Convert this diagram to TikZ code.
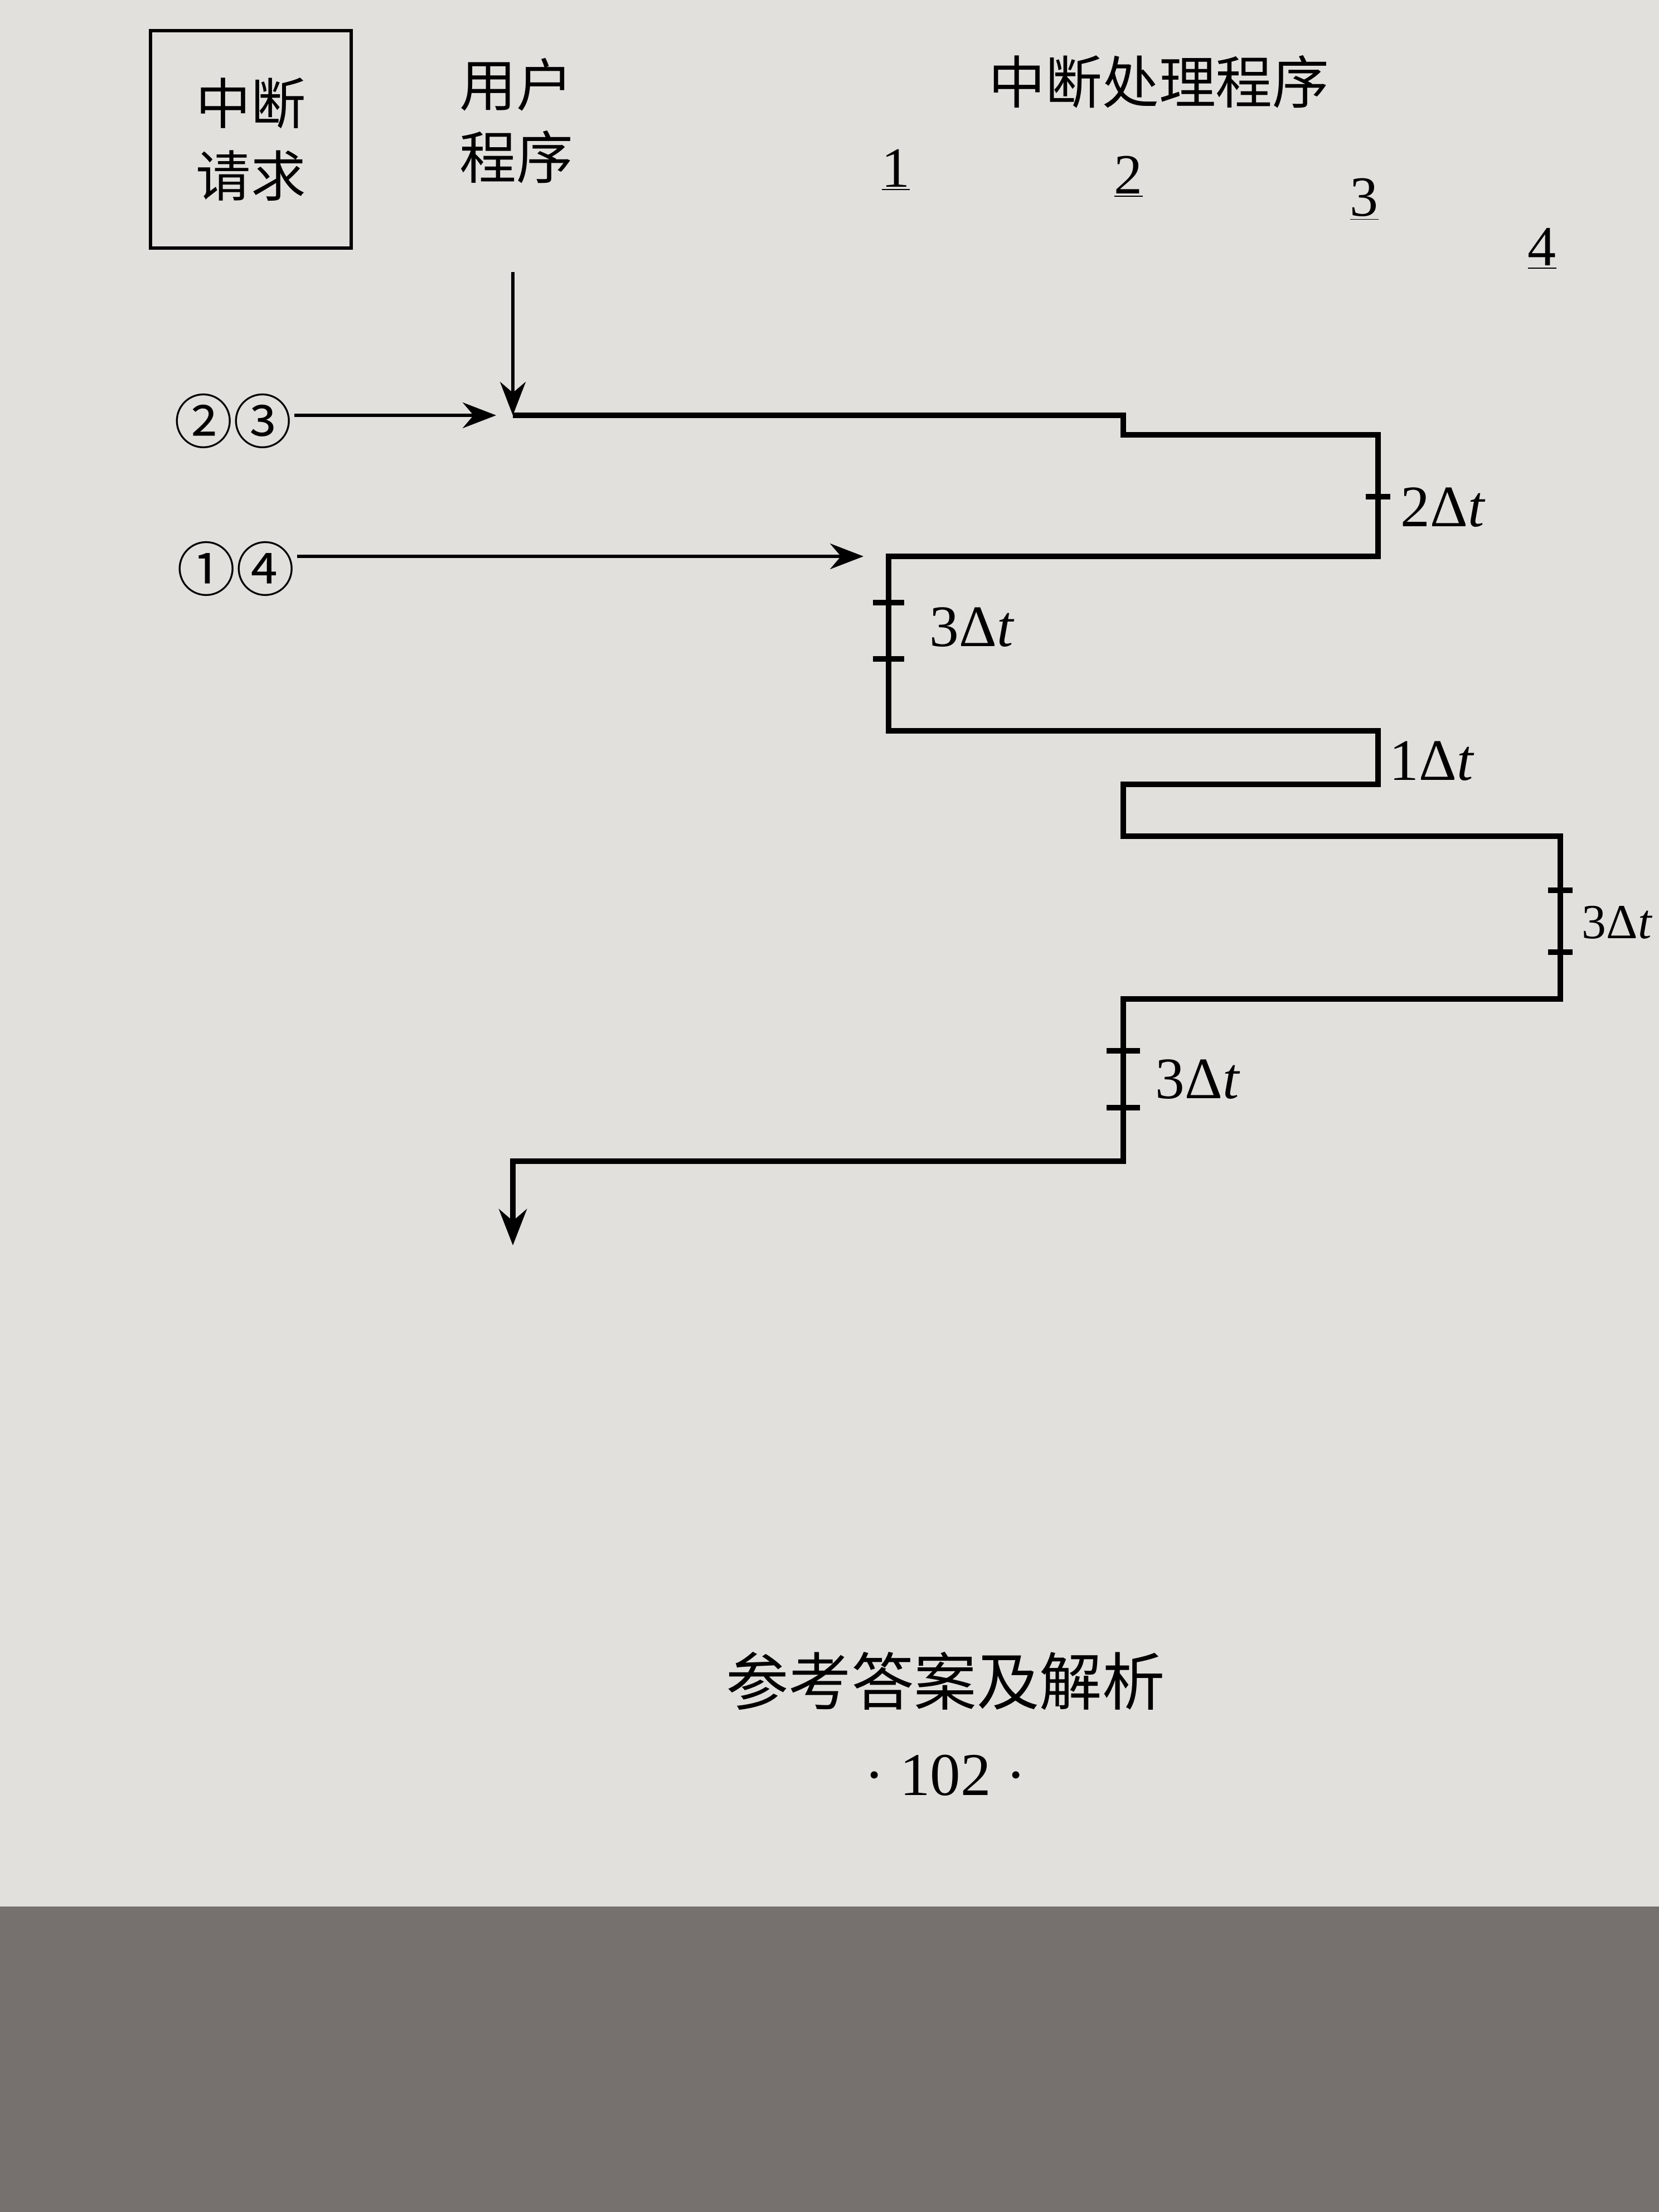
\documentclass[tikz,border=0pt]{standalone}
\usepackage{fontspec}
\setmainfont{Liberation Serif}
\newfontfamily\cjk{Noto Sans CJK SC}
\usetikzlibrary{positioning,arrows.meta}
\definecolor{paper}{RGB}{226,224,221}
\definecolor{desk}{RGB}{118,113,110}
\newcommand{\dtime}[1]{#1Δ\textit{t}}
\tikzset{
  reqbox/.style = {rectangle, draw, line width=1.8pt,
                   minimum width = 3.6cm, minimum height = 3.9cm,
                   align = center, font = \cjk\fontsize{28}{37}\selectfont},
  head/.style   = {align = center, font = \cjk\fontsize{29}{37}\selectfont},
  circ/.style   = {font = \cjk\fontsize{30}{32}\selectfont, inner sep=1pt},
  lvl/.style    = {font = \fontsize{29}{30}\selectfont, inner sep=1pt},
  dt/.style     = {anchor = west, inner sep=2pt, font = \fontsize{30}{30}\selectfont},
  flow/.style   = {line width=2.6pt, line join=miter},
  arr/.style    = {-{Stealth[length=6mm,width=4.6mm]}, line width=1.6pt},
  tck/.style    = {line width=2.6pt}
}

\begin{document}
\begin{tikzpicture}
  \useasboundingbox (0,0) rectangle (29.76,-39.68);
  \fill[paper] (0,0) rectangle (29.76,-34.2);
  \fill[desk] (0,-34.2) rectangle (29.76,-39.68);

  \node[reqbox] (req) at (4.5,-2.5) {中断\\请求};
  \node[head] (user) at (9.26,-2.17) {用户\\程序};
  \node[head] (isr) at (20.79,-1.47) {中断处理程序};
  \node[lvl] (n1) at (16.07,-3.05) {\underline{1}};
  \node[lvl] (n2) at (20.24,-3.17) {\underline{2}};
  \node[lvl] (n3) at (24.47,-3.58) {\underline{3}};
  \node[lvl] (n4) at (27.66,-4.46) {\underline{4}};

  \node[circ] (q23) at (4.18,-7.55) {②③};
  \node[circ] (q14) at (4.23,-10.2) {①④};

  \coordinate (u0) at (9.2,-4.88);
  \coordinate (s)  at (9.2,-7.45);
  \coordinate (a1) at (20.15,-7.45);
  \coordinate (a2) at (20.15,-7.8);
  \coordinate (a3) at (24.72,-7.8);
  \coordinate (a4) at (24.72,-9.98);
  \coordinate (b1) at (15.94,-9.98);
  \coordinate (b2) at (15.94,-13.11);
  \coordinate (c1) at (24.72,-13.11);
  \coordinate (c2) at (24.72,-14.07);
  \coordinate (d1) at (20.15,-14.07);
  \coordinate (d2) at (20.15,-15.0);
  \coordinate (e1) at (27.99,-15.0);
  \coordinate (e2) at (27.99,-17.92);
  \coordinate (f1) at (20.15,-17.92);
  \coordinate (f2) at (20.15,-20.83);
  \coordinate (g1) at (9.2,-20.83);
  \coordinate (g2) at (9.2,-22.34);

  \draw[arr] (u0) -- (s);
  \draw[arr, shorten >=3mm] (q23.east |- s) -- (s);
  \draw[arr, shorten >=4.5mm] (q14.east |- b1) -- (b1);
  \draw[flow, -{Stealth[length=6.5mm,width=5mm]}]
    (s) -- (a1) -- (a2) -- (a3) -- (a4) -- (b1) -- (b2) -- (c1) -- (c2)
    -- (d1) -- (d2) -- (e1) -- (e2) -- (f1) -- (f2) -- (g1) -- (g2);

  \draw[tck] (24.5,-8.91) -- (24.94,-8.91);
  \foreach \y in {-10.81,-11.82}
    \draw[tck] (15.66,\y) -- (16.22,\y);
  \foreach \y in {-15.97,-17.08}
    \draw[tck] (27.77,\y) -- (28.21,\y);
  \foreach \y in {-18.85,-19.87}
    \draw[tck] (19.85,\y) -- (20.45,\y);

  \node[dt] (t2) at (25.05,-9.1) {\dtime{2}};
  \node[dt] (t3a) at (16.6,-11.25) {\dtime{3}};
  \node[dt] (t1) at (24.85,-13.65) {\dtime{1}};
  \node[dt, font=\fontsize{25}{26}\selectfont] (t3b) at (28.3,-16.55) {\dtime{3}};
  \node[dt] (t3c) at (20.65,-19.36) {\dtime{3}};

  \node[font=\cjk\fontsize{32}{34}\selectfont] (foot) at (16.96,-30.16) {参考答案及解析};
  \node[font=\fontsize{31}{32}\selectfont, below=0.55cm of foot] (page) {· 102 ·};
\end{tikzpicture}
\end{document}
